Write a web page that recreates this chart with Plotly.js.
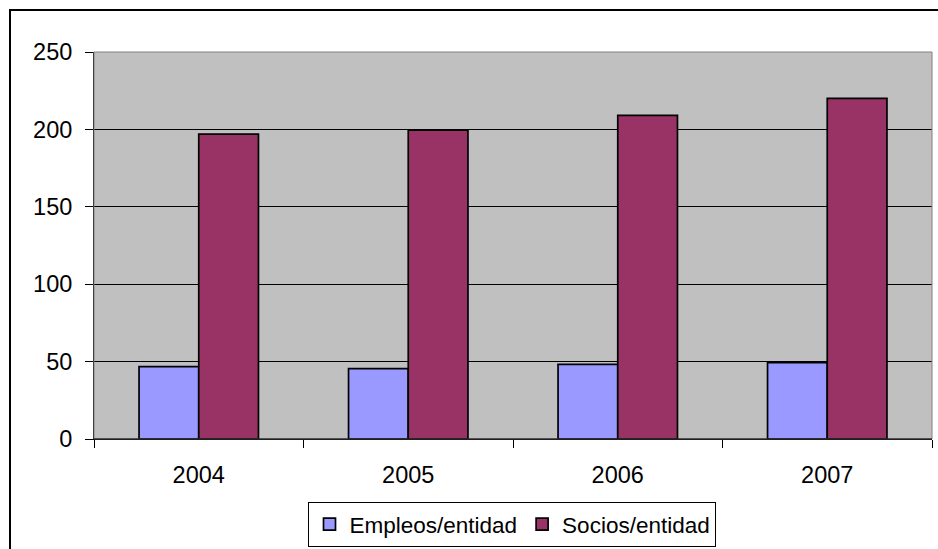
<!DOCTYPE html>
<html>
<head>
<meta charset="utf-8">
<script src="https://cdn.plot.ly/plotly-3.0.1.min.js"></script>
<style>
html,body{margin:0;padding:0;background:#fff;}
#chart{width:938px;height:549px;}
</style>
</head>
<body>
<div id="chart"></div>
<script>
const years = ["2004", "2005", "2006", "2007"];
const empleos = [46.7, 45.4, 48.2, 49.3];
const socios = [197, 199.5, 209, 220];
const seriesNames = ["Empleos/entidad", "Socios/entidad"];
const yTicks = [0, 50, 100, 150, 200, 250];

const font = {family: "Arial, 'Liberation Sans', sans-serif", size: 23.5, color: "#000"};
const legendFont = {family: "Arial, 'Liberation Sans', sans-serif", size: 22.5, color: "#000"};

const traces = [
  {type: "bar", name: seriesNames[0], x: years, y: empleos,
   marker: {color: "#9999FF", line: {color: "#000", width: 1.7}}, hoverinfo: "none"},
  {type: "bar", name: seriesNames[1], x: years, y: socios,
   marker: {color: "#993366", line: {color: "#000", width: 1.7}}, hoverinfo: "none"}
];

const layout = {
  width: 938, height: 549,
  margin: {l: 94, r: 6, t: 52, b: 110, pad: 0, autoexpand: false},
  paper_bgcolor: "#fff",
  plot_bgcolor: "#C0C0C0",
  font: font,
  barmode: "group",
  bargap: 0.43,
  bargroupgap: 0,
  showlegend: true,
  legend: {
    orientation: "h", x: 0.4994, xanchor: "center", y: -0.163, yanchor: "top",
    bordercolor: "#000", borderwidth: 1, bgcolor: "#fff", font: legendFont,
    itemclick: false, itemdoubleclick: false, traceorder: "normal",
    itemwidth: 30, tracegroupgap: 0
  },
  xaxis: {
    type: "category", tickson: "boundaries", ticks: "outside", ticklen: 8,
    tickcolor: "#000", tickwidth: 1, showline: true, linecolor: "#000", linewidth: 1,
    showgrid: false, ticklabelstandoff: 15, tickfont: font, fixedrange: true,
    automargin: false
  },
  yaxis: {
    range: [0, 250], tickvals: yTicks, ticktext: yTicks.map(String),
    ticks: "outside", ticklen: 8, tickcolor: "#000", tickwidth: 1,
    showline: true, linecolor: "#000", linewidth: 1,
    showgrid: true, gridcolor: "#000", gridwidth: 1,
    zeroline: true, zerolinecolor: "#000", zerolinewidth: 1,
    ticklabelstandoff: 8, tickfont: font, fixedrange: true,
    automargin: false
  },
  shapes: [
    {type: "rect", xref: "paper", yref: "paper", x0: 0, x1: 1, y0: 0, y1: 1,
     line: {color: "#808080", width: 1}, layer: "above"},
    {type: "line", xref: "paper", yref: "paper", x0: 0, x1: 1, y0: 0, y1: 0,
     line: {color: "#000", width: 1}, layer: "above"},
    {type: "rect", xref: "paper", yref: "paper",
     x0: (10 - 94) / 838, x1: (945 - 94) / 838,
     y0: (439 - 555) / 387, y1: (439 - 10) / 387,
     line: {color: "#000", width: 2}, layer: "above"}
  ]
};

Plotly.newPlot("chart", traces, layout, {displayModeBar: false, staticPlot: true});
</script>
</body>
</html>
